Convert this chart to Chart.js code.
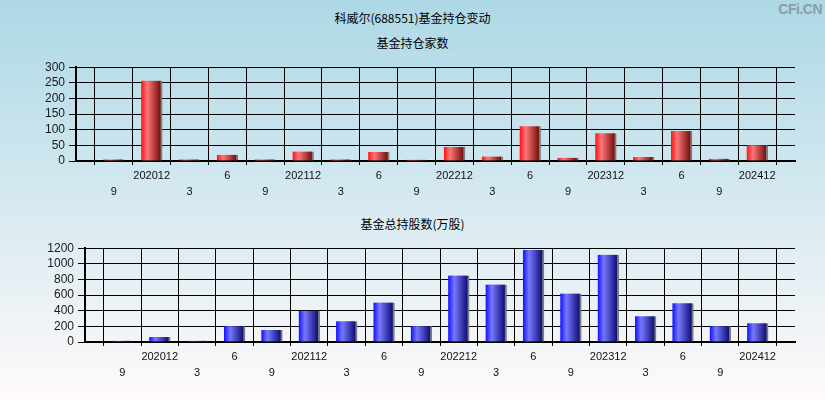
<!DOCTYPE html>
<html>
<head>
<meta charset="utf-8">
<script src="https://cdn.jsdelivr.net/npm/chart.js@4.4.0/dist/chart.umd.min.js"></script>
<style>
  body {
    margin: 0;
    width: 825px;
    height: 400px;
    overflow: hidden;
    position: relative;
    background: linear-gradient(#add8e6, #fffafa);
    font-family: "Noto Sans CJK SC", "Liberation Sans", sans-serif;
  }
  .title {
    position: absolute;
    left: 0;
    width: 825px;
    text-align: center;
    font-size: 12px;
    line-height: 16px;
    color: #000;
  }
  .mark {
    position: absolute;
    right: 3px;
    top: 1px;
    font: bold 14px "Liberation Sans", sans-serif;
    color: #8e9ca6;
    letter-spacing: -0.5px;
  }
  .box { position: absolute; left: 0; width: 825px; height: 150px; }
</style>
</head>
<body>
<div class="mark">CFi.CN</div>
<div class="title" style="top:10px">科威尔(688551)基金持仓变动</div>
<div class="title" style="top:35px">基金持仓家数</div>
<div class="title" style="top:216px">基金总持股数(万股)</div>
<div class="box" style="top:56px"><canvas id="countChart" width="825" height="150"></canvas></div>
<div class="box" style="top:237px"><canvas id="sharesChart" width="825" height="150"></canvas></div>

<script>
// quarters shown on the x axis
const quarters = ["202009", "202012", "202103", "202106", "202109", "202112",
  "202203", "202206", "202209", "202212", "202303", "202306",
  "202309", "202312", "202403", "202406", "202409", "202412"];
const tickLabels = ["9", "202012", "3", "6", "9", "202112", "3", "6", "9",
  "202212", "3", "6", "9", "202312", "3", "6", "9", "202412"];

// number of funds holding
const holdCount = [5, 257, 5, 20, 5, 30, 5, 29, 4, 45, 14, 111, 10, 89, 13, 96, 7, 50];
// total shares held by funds (10k shares)
const totalShares = [15, 65, 15, 200, 155, 400, 265, 505, 200, 850, 735, 1178, 620, 1115, 330, 495, 200, 240];

const countTicks = [0, 50, 100, 150, 200, 250, 300];
const sharesTicks = [0, 200, 400, 600, 800, 1000, 1200];

// empty slot before first and after last quarter
const xLabels = [""].concat(quarters, [""]);
const pad = arr => [null].concat(arr, [null]);

function barFill(colors) {
  return (ctx) => {
    const chart = ctx.chart;
    if (!chart.chartArea || ctx.type !== "data") return colors[1];
    const cx = chart.scales.x.getPixelForValue(ctx.dataIndex);
    const g = chart.ctx.createLinearGradient(cx - 10.5, 0, cx + 8.5, 0);
    g.addColorStop(0, colors[0]);
    g.addColorStop(0.32, colors[1]);
    g.addColorStop(1, colors[2]);
    return g;
  };
}

function makeChart(id, data, ticks, colors, axisWidth) {
  return new Chart(document.getElementById(id), {
    type: "bar",
    data: {
      labels: xLabels,
      datasets: [{
        data: pad(data),
        backgroundColor: barFill(colors),
        borderColor: "#7c7c7c",
        borderWidth: { top: 0, right: 2, bottom: 0, left: 0 },
        borderSkipped: false,
        barThickness: 21
      }]
    },
    options: {
      responsive: false,
      animation: false,
      layout: { padding: { top: 10, right: 30, left: 0, bottom: 0 } },
      plugins: { legend: { display: false }, tooltip: { enabled: false } },
      scales: {
        x: {
          offset: false,
          grid: { color: "#000", lineWidth: 1, tickLength: 4 },
          border: { color: "#000", width: 2 },
          ticks: {
            autoSkip: false,
            maxRotation: 0,
            padding: 3,
            color: "#111",
            font: { family: "Liberation Sans", size: 11, lineHeight: 1.45 },
            callback: (v, i) => {
              if (i === 0 || i === xLabels.length - 1) return "";
              const t = tickLabels[i - 1];
              return (i - 1) % 2 === 0 ? ["", t] : t;
            }
          },
          afterFit: s => { s.height = 45; }
        },
        y: {
          min: ticks[0],
          max: ticks[ticks.length - 1],
          grid: { color: "#000", lineWidth: 1, tickLength: 7 },
          border: { color: "#000", width: 2 },
          ticks: {
            autoSkip: false,
            padding: 4,
            color: "#1a1a1a",
            font: { family: "Liberation Sans", size: 12 },
            callback: v => String(v)
          },
          afterBuildTicks: s => { s.ticks = ticks.map(v => ({ value: v })); },
          afterFit: s => { s.width = axisWidth; }
        }
      }
    }
  });
}

makeChart("countChart", holdCount, countTicks, ["#ff1010", "#ff7878", "#7a1010"], 76);
makeChart("sharesChart", totalShares, sharesTicks, ["#1010ff", "#7878ff", "#10107a"], 85);
</script>
</body>
</html>
